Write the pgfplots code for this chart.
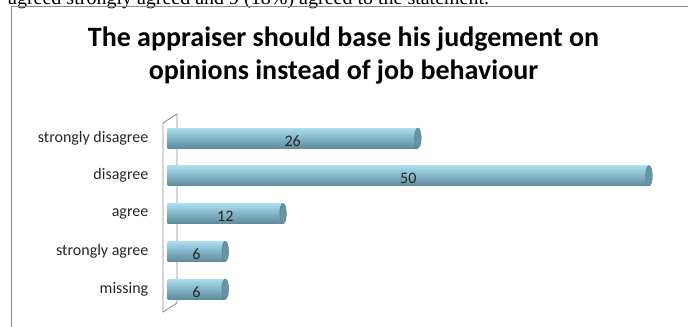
\documentclass[border=0pt]{standalone}
\usepackage{pgfplots}
\pgfplotsset{compat=1.18}
\usepackage{pgfplotstable}
\usepackage{fontspec}
\setmainfont{Carlito}
\newfontfamily\serifdoc{Liberation Serif}
\definecolor{bartop}{HTML}{A9DDEF}
\definecolor{barmid}{HTML}{96CDE1}
\definecolor{barbot}{HTML}{5E8C9D}
\definecolor{capfill}{HTML}{6A93A4}
\definecolor{capdraw}{HTML}{5A7F8D}
\definecolor{framegray}{HTML}{8C8C8C}

\pgfplotstableread{
i v
0 6
1 6
2 12
3 50
4 26
}\datatable

\pgfplotsset{cylbar/.style={xbar, bar shift=0pt, bar width=20bp, draw=none,
  top color=bartop, middle color=barmid, bottom color=barbot}}

\begin{document}
\begin{tikzpicture}[x=1bp,y=1bp]
\useasboundingbox (0,0) rectangle (688,326);
\clip (0,0) rectangle (688,326);
% partial document text at the top
\node[anchor=base west, inner sep=0pt, font=\serifdoc\fontsize{20bp}{22bp}\selectfont] at (8,322)
  {agreed strongly agreed and 9 (18\%) agreed to the statement.};
% chart frame
\draw[framegray, line width=1bp] (11,-10) -- (11,319) -- (700,319);
% title
\node[anchor=base, inner sep=0pt, font=\bfseries\fontsize{28bp}{33bp}\selectfont] at (343.5,279.3)
  {The appraiser should base his judgement on};
\node[anchor=base, inner sep=0pt, font=\bfseries\fontsize{28bp}{33bp}\selectfont] at (343.5,246.3)
  {opinions instead of job behaviour};
% 3D wall
\draw[framegray, line width=0.8bp, fill=white] (163,203) -- (177,212) -- (177,23) -- (163,14) -- cycle;
\begin{axis}[
  at={(167.5bp,18.1bp)}, anchor=south west,
  scale only axis, width=481.5bp, height=188.75bp,
  xmin=0, xmax=50, ymin=-0.5, ymax=4.5,
  clip=false,
  axis line style={draw=none},
  tick style={draw=none},
  xtick=\empty,
  ytick={0,1,2,3,4},
  yticklabels={missing, strongly agree, agree, disagree, strongly disagree},
  yticklabel style={font=\fontsize{16bp}{18bp}\selectfont, text=black!85, inner sep=0pt, xshift=-19bp},
  /pgf/number format/assume math mode=true,
]
\addplot[cylbar] coordinates {(6,0)};
\addplot[cylbar] coordinates {(6,1)};
\addplot[cylbar] coordinates {(12,2)};
\addplot[cylbar] coordinates {(50,3)};
\addplot[cylbar] coordinates {(26,4)};
\addplot[only marks, mark=*, mark size=10bp, mark options={xscale=0.33, fill=capfill, draw=capdraw, line width=0.5bp}]
  table[x=v, y=i] {\datatable};
\addplot[draw=none, mark=none, point meta=\thisrow{v}, nodes near coords,
  nodes near coords style={anchor=center, yshift=-3bp, font=\fontsize{16bp}{18bp}\selectfont, text=black!85}]
  table[x expr=\thisrow{v}/2, y=i] {\datatable};
\end{axis}
\end{tikzpicture}
\end{document}
